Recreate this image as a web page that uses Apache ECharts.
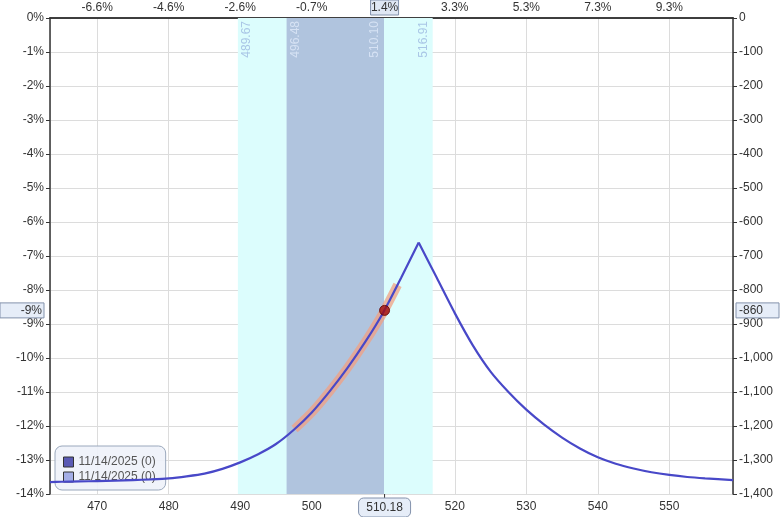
<!DOCTYPE html>
<html>
<head>
<meta charset="utf-8">
<script src="https://cdn.jsdelivr.net/npm/echarts@6/dist/echarts.min.js"></script>
<style>
html,body{margin:0;padding:0;background:#fff;}
#chart{width:780px;height:517px;}
</style>
</head>
<body>
<div id="chart"></div>
<script>
// ---- data ----
const xRange = [463.4, 558.9];
const yRange = [-1400, 0];
const leftBranch = [[463.4,-1365],[465,-1364],[467.5,-1363],[470,-1362],[472.5,-1361],[475,-1359],[477.5,-1357],[480,-1354],[482.5,-1348],[485,-1340],[487.5,-1326],[490,-1307],[492.5,-1283],[495,-1253],[497.5,-1211],[500,-1160],[502.5,-1098],[505,-1029],[507.5,-952],[510,-866],[512.5,-764],[514.95,-660]];
const rightBranch = [[514.95,-660],[517.5,-765],[520,-868],[522.5,-962],[525,-1040],[527.5,-1100],[530,-1152],[532.5,-1196],[535,-1234],[537.5,-1266],[540,-1292],[542.5,-1311],[545,-1325],[547.5,-1336],[550,-1344],[552.5,-1350],[555,-1354],[558.9,-1359]];
const highlightPts = [[497.6,-1209],[500,-1160],[502.5,-1098],[505,-1029],[507.5,-952],[510,-866],[512,-785]];
const currentPoint = [510.18, -860];
const outerBand = [489.67, 516.91];
const innerBand = [496.48, 510.10];
const bandLabels = ['489.67','496.48','510.10','516.91'];
const topTickValues = [470,480,490,500,510,520,530,540,550];
const topTickLabels = ['-6.6%','-4.6%','-2.6%','-0.7%','1.4%','3.3%','5.3%','7.3%','9.3%'];
const seriesNames = ['11/14/2025 (0)', '11/14/2025 (0)\u200b'];
const pointerLabels = {bottom:'510.18', top:'1.4%', left:'-9%', right:'-860'};

const FONT = "'Liberation Sans', Arial, sans-serif";
const chart = echarts.init(document.getElementById('chart'), null, {renderer:'canvas'});

function fmtThousands(v){
  const s = Math.abs(v).toString().replace(/\B(?=(\d{3})+(?!\d))/g, ',');
  return (v<0?'-':'') + s;
}

const axisLabelBase = {color:'#333', fontFamily:FONT, fontSize:12};
const gridLine = {show:true, lineStyle:{color:'#dcdcdc', width:1}};

const option = {
  animation:false,
  backgroundColor:'#fff',
  grid:{left:50, right:47, top:18, bottom:23, containLabel:false},
  legend:{
    orient:'vertical', left:55, top:446,
    padding:[10,10,7,8], itemGap:3, itemWidth:10, itemHeight:10,
    backgroundColor:'rgba(238,242,250,0.9)', borderColor:'#9aa8bc', borderWidth:1, borderRadius:7,
    textStyle:{color:'#555', fontFamily:FONT, fontSize:12},
    data:[
      {name:seriesNames[0], icon:'rect', itemStyle:{color:'#5a5ab4', borderColor:'#333', borderWidth:1}},
      {name:seriesNames[1], icon:'rect', itemStyle:{color:'#a4aee6', borderColor:'#333', borderWidth:1}}
    ]
  },
  xAxis:[
    {type:'value', position:'bottom', min:xRange[0], max:xRange[1], splitNumber:10,
     axisLine:{show:true, lineStyle:{color:'#333', width:1.5}},
     axisTick:{show:false},
     axisLabel:Object.assign({}, axisLabelBase, {showMinLabel:false, showMaxLabel:false, margin:7}),
     splitLine:gridLine},
    {type:'value', position:'top', min:xRange[0], max:xRange[1], splitNumber:10,
     axisLine:{show:true, lineStyle:{color:'#333', width:1.5}},
     axisTick:{show:false},
     axisLabel:Object.assign({}, axisLabelBase, {showMinLabel:false, showMaxLabel:false, margin:4,
       formatter:function(v){ const i = topTickValues.indexOf(Math.round(v)); return i>=0 ? topTickLabels[i] : ''; }}),
     splitLine:{show:false}}
  ],
  yAxis:[
    {type:'value', position:'left', min:yRange[0], max:yRange[1], interval:100,
     axisLine:{show:true, lineStyle:{color:'#333', width:1.5}},
     axisTick:{show:true, length:4, lineStyle:{color:'#333'}},
     axisLabel:Object.assign({}, axisLabelBase, {margin:6, formatter:function(v){ return (v/100) + '%'; }}),
     splitLine:gridLine},
    {type:'value', position:'right', min:yRange[0], max:yRange[1], interval:100,
     axisLine:{show:true, lineStyle:{color:'#333', width:1.5}},
     axisTick:{show:true, length:4, lineStyle:{color:'#333'}},
     axisLabel:Object.assign({}, axisLabelBase, {margin:6, formatter:fmtThousands}),
     splitLine:{show:false}}
  ],
  series:[
    {type:'line', name:'bands', data:[], silent:true, z:1,
     markArea:{silent:true, data:[
       [{xAxis:outerBand[0], itemStyle:{color:'#dcfdfd'}}, {xAxis:outerBand[1]}],
       [{xAxis:innerBand[0], itemStyle:{color:'#b0c4de'}}, {xAxis:innerBand[1]}]
     ]}
    },
    {type:'line', name:'bandLabels', data:[], silent:true, z:2,
     markLine:{silent:true, symbol:'none', lineStyle:{color:'rgba(0,0,0,0)', width:0},
       label:{show:true, fontFamily:FONT, fontSize:12, distance:3},
       data:[
         {xAxis:outerBand[0], label:{formatter:bandLabels[0], position:'insideEndBottom', color:'#a9c6e6'}},
         {xAxis:innerBand[0], label:{formatter:bandLabels[1], position:'insideEndBottom', color:'#d6e2f4'}},
         {xAxis:innerBand[1], label:{formatter:bandLabels[2], position:'insideEndTop', color:'#d6e2f4'}},
         {xAxis:outerBand[1], label:{formatter:bandLabels[3], position:'insideEndTop', color:'#a9c6e6'}}
       ]}
    },
    {type:'line', name:seriesNames[1], data:[], color:'#a4aee6', showSymbol:false},
    {type:'line', name:'highlight', data:highlightPts, smooth:0.25, showSymbol:false, silent:true, z:3,
     lineStyle:{color:'rgba(242,160,130,0.75)', width:9, cap:'butt'}},
    {type:'line', name:seriesNames[0], data:leftBranch, smooth:0.25, showSymbol:false, z:4, color:'#4848c8',
     lineStyle:{color:'#4848c8', width:2.2}},
    {type:'line', name:seriesNames[0], data:rightBranch, smooth:0.25, showSymbol:false, z:4, color:'#4848c8',
     lineStyle:{color:'#4848c8', width:2.2}},
    {type:'scatter', name:'current', data:[currentPoint], symbolSize:10, z:6,
     itemStyle:{color:'#a00d0d', borderColor:'#5a0000', borderWidth:1}}
  ]
};
chart.setOption(option);

// pointer boxes positioned through the axes' own scales
const px = chart.convertToPixel({xAxisIndex:0}, currentPoint[0]);
const py = chart.convertToPixel({yAxisIndex:0}, currentPoint[1]);
const boxFill = '#e6edf8', boxStroke = '#8392ac';
const txt = {fill:'#333', font:'12px ' + FONT};
chart.setOption({graphic:[
  {type:'line', shape:{x1:px, y1:494, x2:px, y2:499}, style:{stroke:'#333', lineWidth:1}, z:100},
  {type:'rect', shape:{x:px-26, y:498, width:52, height:19, r:5}, style:{fill:boxFill, stroke:boxStroke, lineWidth:1}, z:100},
  {type:'text', x:px, y:508, style:Object.assign({text:pointerLabels.bottom, align:'center', verticalAlign:'middle'}, txt), z:101},
  {type:'rect', shape:{x:px-14, y:0, width:28, height:15}, style:{fill:'#dfe7f4', stroke:boxStroke, lineWidth:1}, z:100},
  {type:'text', x:px, y:8, style:Object.assign({text:pointerLabels.top, align:'center', verticalAlign:'middle'}, txt), z:101},
  {type:'rect', shape:{x:0, y:py-7.5, width:44, height:15}, style:{fill:boxFill, stroke:boxStroke, lineWidth:1}, z:100},
  {type:'text', x:42, y:py, style:Object.assign({text:pointerLabels.left, align:'right', verticalAlign:'middle'}, txt), z:101},
  {type:'rect', shape:{x:736, y:py-7.5, width:43, height:15}, style:{fill:boxFill, stroke:boxStroke, lineWidth:1}, z:100},
  {type:'text', x:739, y:py, style:Object.assign({text:pointerLabels.right, align:'left', verticalAlign:'middle'}, txt), z:101}
]});
</script>
</body>
</html>
